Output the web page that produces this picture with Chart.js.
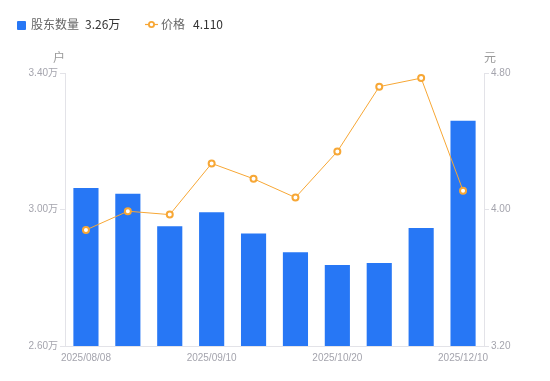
<!DOCTYPE html>
<html>
<head>
<meta charset="utf-8">
<script src="https://cdn.jsdelivr.net/npm/chart.js@4/dist/chart.umd.min.js"></script>
<style>
  html, body { margin: 0; padding: 0; background: #fff; }
  body { width: 550px; height: 381px; position: relative; overflow: hidden;
         font-family: "Noto Sans CJK SC", "Noto Sans", sans-serif; }
  #wrap { position: absolute; left: 0; top: 0; width: 550px; height: 381px; }
  .lg { position: absolute; top: 15px; font-size: 12px; line-height: 18px; white-space: nowrap; }
  .lbl { color: #666; }
  .val { color: #333; margin-left: 6px; }
  .unit { position: absolute; top: 48px; font-size: 12px; color: #999; }
</style>
</head>
<body>
<div id="wrap"><canvas id="c" width="550" height="381"></canvas></div>
<div class="lg" style="left:17px;">
  <span style="display:inline-block;width:9px;height:9px;background:#2777f5;border-radius:1px;vertical-align:-0.5px;margin-right:5px;"></span><span class="lbl">股东数量</span><span class="val">3.26万</span>
</div>
<div class="lg" style="left:145px;">
  <svg width="13" height="9" style="vertical-align:0px;margin-right:3px;"><line x1="0" y1="4.5" x2="13" y2="4.5" stroke="#f7a735" stroke-width="1.2"/><circle cx="6.5" cy="4.5" r="2.6" fill="#fff" stroke="#f7a735" stroke-width="1.8"/></svg><span class="lbl">价格</span><span class="val" style="margin-left:8px;">4.110</span>
</div>
<div class="unit" style="left:53px;">户</div>
<div class="unit" style="left:484px;">元</div>
<script>
const dates = ["2025/08/08","2025/08/20","2025/08/31","2025/09/10","2025/09/19","2025/09/30","2025/10/20","2025/10/31","2025/11/20","2025/12/10"];
const holders = [3.063, 3.046, 2.951, 2.992, 2.930, 2.875, 2.837, 2.843, 2.946, 3.260];
const prices = [3.88, 3.99, 3.97, 4.27, 4.18, 4.07, 4.34, 4.72, 4.77, 4.11];
const shownTickIdx = [0, 3, 6, 9];
const leftTicks = [2.6, 3.0, 3.4];
const rightTicks = [3.2, 4.0, 4.8];

const BLUE = '#2777f5';
const ORANGE = '#f7a735';
const AXIS = '#e3e3e8';
const TICKC = '#a4a4ad';
const FONT = '"Liberation Sans", "Noto Sans CJK SC", sans-serif';

new Chart(document.getElementById('c'), {
  data: {
    labels: dates,
    datasets: [
      { type: 'line', label: '价格', data: prices, yAxisID: 'y1', order: 0,
        borderColor: ORANGE, borderWidth: 1, backgroundColor: '#fff',
        pointRadius: 3, pointBorderWidth: 2, pointBorderColor: ORANGE,
        pointBackgroundColor: '#fff', tension: 0 },
      { type: 'bar', label: '股东数量', data: holders, yAxisID: 'y', order: 1,
        backgroundColor: BLUE, borderWidth: 0,
        barPercentage: 0.6, categoryPercentage: 1.0 }
    ]
  },
  options: {
    responsive: false,
    animation: false,
    devicePixelRatio: 1,
    layout: { padding: { top: 73, left: 0, right: 0, bottom: 0 } },
    plugins: { legend: { display: false }, tooltip: { enabled: false } },
    scales: {
      x: {
        grid: { display: false, drawTicks: false },
        border: { display: true, color: AXIS },
        ticks: {
          autoSkip: false, maxRotation: 0, color: TICKC, padding: 6,
          font: { family: FONT, size: 10 },
          callback: function(v, i) { return shownTickIdx.includes(i) ? dates[i] : ''; }
        },
        afterFit: function(s) { s.height = 35; }
      },
      y: {
        position: 'left', min: 2.6, max: 3.4,
        afterBuildTicks: function(s) { s.ticks = leftTicks.map(v => ({ value: v })); },
        grid: { drawOnChartArea: false, tickLength: 5, color: AXIS },
        border: { display: true, color: AXIS },
        ticks: { color: TICKC, padding: 2, font: { family: FONT, size: 10 },
                 callback: v => v.toFixed(2) + '万' },
        afterFit: function(s) { s.width = 65; }
      },
      y1: {
        position: 'right', min: 3.2, max: 4.8,
        afterBuildTicks: function(s) { s.ticks = rightTicks.map(v => ({ value: v })); },
        grid: { drawOnChartArea: false, tickLength: 5, color: AXIS },
        border: { display: true, color: AXIS },
        ticks: { color: TICKC, padding: 2, font: { family: FONT, size: 10 },
                 callback: v => v.toFixed(2) },
        afterFit: function(s) { s.width = 66; }
      }
    }
  }
});
</script>
</body>
</html>
